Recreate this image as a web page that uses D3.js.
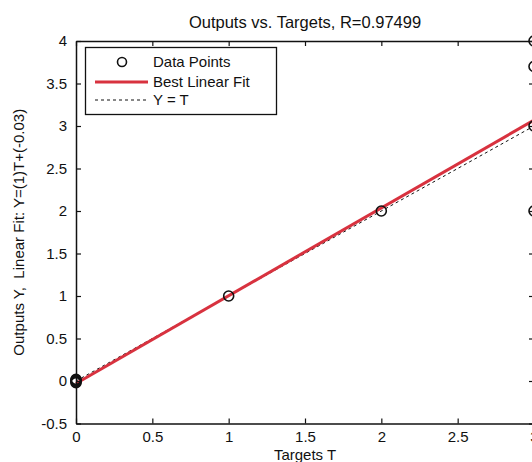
<!DOCTYPE html>
<html><head><meta charset="utf-8">
<script src="https://cdn.jsdelivr.net/npm/d3@7"></script>
<style>
html,body{margin:0;padding:0;background:#fff;}
svg{display:block;font-family:"Liberation Sans",Arial,Helvetica,sans-serif;}
</style></head>
<body>
<script>
// ---- data ----
const targets = [0, 0, 0, 0, 0, 1, 2, 3, 3, 3, 3];
const outputs = [0, -0.02, 0.02, -0.01, 0.01, 1, 2, 3, 2, 3.7, 4];
const fitSlope = 1.033;
const fitIntercept = -0.03;
const xTicks = [0, 0.5, 1, 1.5, 2, 2.5, 3];
const yTicks = [-0.5, 0, 0.5, 1, 1.5, 2, 2.5, 3, 3.5, 4];
const xDomain = [0, 3];
const yDomain = [-0.5, 4];
const titleText = "Outputs vs. Targets, R=0.97499";
const xLabelText = "Targets T";
const yLabelText = "Outputs Y,  Linear Fit: Y=(1)T+(-0.03)";
const legendLabels = ["Data Points", "Best Linear Fit", "Y = T"];

// ---- layout ----
const W = 532, H = 462;
const m = {left: 76, top: 41, right: 534, bottom: 423.5};
const svg = d3.select("body").append("svg").attr("width", W).attr("height", H);

const x = d3.scaleLinear().domain(xDomain).range([m.left, m.right]);
const y = d3.scaleLinear().domain(yDomain).range([m.bottom, m.top]);
const fmt = d => String(d);
const tickLen = 5;

// lines
const fitLine = d3.line().x(d => x(d)).y(d => y(fitSlope * d + fitIntercept));
const idLine = d3.line().x(d => x(d)).y(d => y(d));

svg.append("path").datum(xDomain).attr("d", idLine)
  .attr("fill", "none").attr("stroke", "#111").attr("stroke-width", 1)
  .attr("stroke-dasharray", "3,3");
svg.append("path").datum(xDomain).attr("d", fitLine)
  .attr("fill", "none").attr("stroke", "#d8323f").attr("stroke-width", 3);

// points
svg.append("g").selectAll("circle").data(targets.map((t, i) => [t, outputs[i]]))
  .join("circle")
  .attr("cx", d => x(d[0])).attr("cy", d => y(d[1])).attr("r", 5)
  .attr("fill", "none").attr("stroke", "#111").attr("stroke-width", 1.6);

// axes (inward ticks on all sides)
const axStyle = g => {
  g.select(".domain").attr("stroke", "#111").attr("stroke-width", 1.5);
  g.selectAll(".tick line").attr("stroke", "#111").attr("stroke-width", 1.2);
  g.selectAll("text").attr("fill", "#111").attr("font-size", 15);
};
svg.append("g").attr("transform", `translate(0,${m.bottom})`)
  .call(d3.axisBottom(x).tickValues(xTicks).tickFormat(fmt).tickSizeInner(-tickLen).tickSizeOuter(0).tickPadding(8))
  .call(axStyle);
svg.append("g").attr("transform", `translate(0,${m.top})`)
  .call(d3.axisTop(x).tickValues(xTicks).tickFormat("").tickSizeInner(-tickLen).tickSizeOuter(0))
  .call(axStyle);
svg.append("g").attr("transform", `translate(${m.left},0)`)
  .call(d3.axisLeft(y).tickValues(yTicks).tickFormat(fmt).tickSizeInner(-tickLen).tickSizeOuter(0).tickPadding(9))
  .call(axStyle);
svg.append("g").attr("transform", `translate(${m.right},0)`)
  .call(d3.axisRight(y).tickValues(yTicks).tickFormat("").tickSizeInner(-tickLen).tickSizeOuter(0))
  .call(axStyle);

// title & labels
svg.append("text").attr("x", (m.left + m.right) / 2).attr("y", 28)
  .attr("text-anchor", "middle").attr("font-size", 16.5).attr("fill", "#111").text(titleText);
svg.append("text").attr("x", (m.left + m.right) / 2).attr("y", 460)
  .attr("text-anchor", "middle").attr("font-size", 15).attr("fill", "#111").text(xLabelText);
svg.append("text").attr("transform", `translate(24,${(m.top + m.bottom) / 2}) rotate(-90)`)
  .attr("text-anchor", "middle").attr("font-size", 15).attr("fill", "#111")
  .style("white-space", "pre").text(yLabelText);

// legend
const lg = svg.append("g");
lg.append("rect").attr("x", 85.5).attr("y", 47.5).attr("width", 191).attr("height", 67)
  .attr("fill", "#fff").attr("stroke", "#111").attr("stroke-width", 1.3);
const rowsY = [62, 82, 100];
lg.append("circle").attr("cx", 122).attr("cy", rowsY[0]).attr("r", 4.5)
  .attr("fill", "none").attr("stroke", "#111").attr("stroke-width", 1.6);
lg.append("line").attr("x1", 95).attr("x2", 148).attr("y1", rowsY[1]).attr("y2", rowsY[1])
  .attr("stroke", "#d8323f").attr("stroke-width", 3);
lg.append("line").attr("x1", 95).attr("x2", 148).attr("y1", rowsY[2]).attr("y2", rowsY[2])
  .attr("stroke", "#111").attr("stroke-width", 1).attr("stroke-dasharray", "3,3");
lg.selectAll("text.lab").data(legendLabels).join("text").attr("class", "lab")
  .attr("x", 153).attr("y", (d, i) => rowsY[i]).attr("dy", "0.35em")
  .attr("font-size", 15).attr("fill", "#111").text(d => d);
</script>
</body></html>
